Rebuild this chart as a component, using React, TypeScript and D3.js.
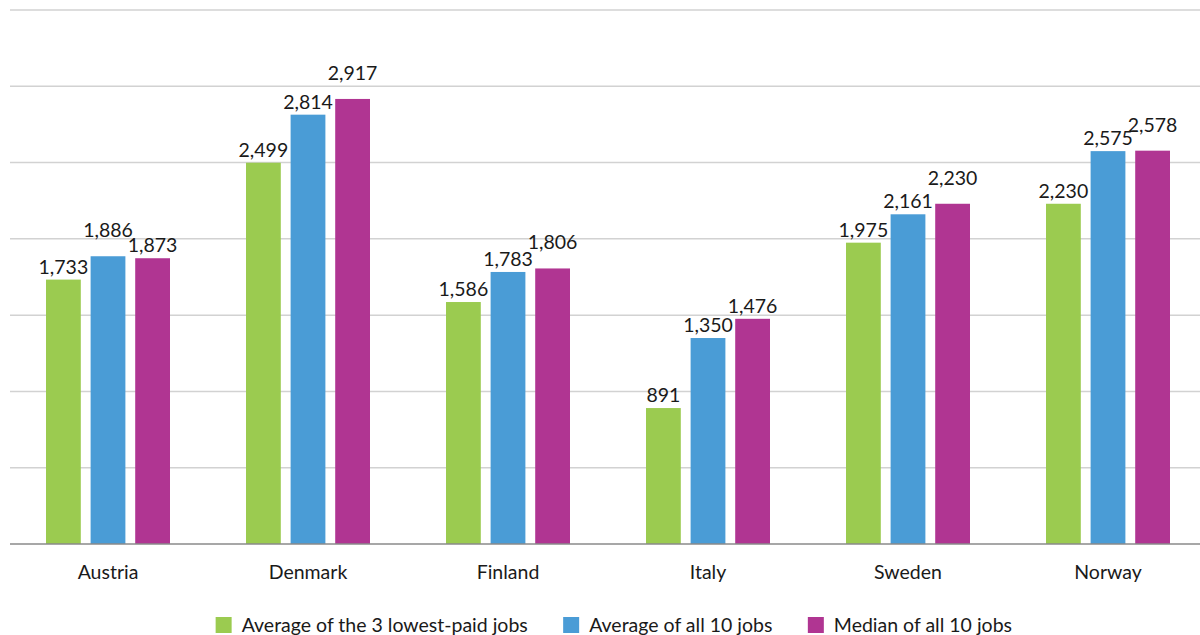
import React from "react";
import * as d3 from "d3";

const countries = ["Austria", "Denmark", "Finland", "Italy", "Sweden", "Norway"];
const seriesNames = [
  "Average of the 3 lowest-paid jobs",
  "Average of all 10 jobs",
  "Median of all 10 jobs",
];
const lowestPaidAvg = [1733, 2499, 1586, 891, 1975, 2230];
const allJobsAvg = [1886, 2814, 1783, 1350, 2161, 2575];
const allJobsMedian = [1873, 2917, 1806, 1476, 2230, 2578];
const seriesColors = ["#9bcb50", "#4a9cd6", "#b03592"];
const yTicks = [0, 500, 1000, 1500, 2000, 2500, 3000, 3500];

const W = 1200;
const H = 635;
const FONT = "Lato, 'Source Sans Pro', sans-serif";
const FS = 19.5;

let measureCtx: CanvasRenderingContext2D | null = null;
function textWidth(s: string): number {
  if (!measureCtx) {
    const c = document.createElement("canvas");
    measureCtx = c.getContext("2d");
  }
  if (!measureCtx) return s.length * FS * 0.5;
  measureCtx.font = `${FS}px Lato`;
  return measureCtx.measureText(s).width;
}

export default function App() {
  const series = [lowestPaidAvg, allJobsAvg, allJobsMedian];
  const fmt = d3.format(",");

  const x0 = d3
    .scaleBand<string>()
    .domain(countries)
    .range([8, 1208])
    .paddingInner(0.38)
    .paddingOuter(0.19);
  const x1 = d3
    .scaleBand<number>()
    .domain([0, 1, 2])
    .range([0, x0.bandwidth()])
    .paddingInner(0.22);
  const y = d3.scaleLinear().domain([0, 3500]).range([544, 10]);

  // value labels sit 6px above each bar; when two neighbours collide,
  // the taller bar's label is lifted to a second row
  const labels: { x: number; yb: number; text: string }[] = [];
  countries.forEach((c, ci) => {
    const items = series.map((s, si) => {
      const v = s[ci];
      const text = fmt(v);
      return {
        v,
        text,
        w: textWidth(text),
        cx: (x0(c) ?? 0) + (x1(si) ?? 0) + x1.bandwidth() / 2,
        yb: y(v) - 6,
      };
    });
    for (let i = 0; i < items.length - 1; i++) {
      const a = items[i];
      const b = items[i + 1];
      const hOverlap = Math.abs(a.cx - b.cx) < (a.w + b.w) / 2;
      const vOverlap = Math.abs(a.yb - b.yb) < 17;
      if (hOverlap && vOverlap) {
        const hi = a.v >= b.v ? a : b;
        hi.yb -= 13;
      }
    }
    items.forEach((it) => labels.push({ x: it.cx, yb: it.yb, text: it.text }));
  });

  // legend layout, centred under the plot
  const sq = 16;
  const sqGap = 10;
  const itemGap = 35;
  const widths = seriesNames.map((n) => textWidth(n));
  const total = widths.reduce((acc, w) => acc + sq + sqGap + w, 0) + itemGap * (seriesNames.length - 1);
  let lx = 614 - total / 2;
  const legendItems = seriesNames.map((n, i) => {
    const item = { x: lx, name: n, color: seriesColors[i] };
    lx += sq + sqGap + widths[i] + itemGap;
    return item;
  });

  return (
    <svg
      width={W}
      height={H}
      style={{ position: "absolute", left: 0, top: 0, background: "#fff" }}
      fontFamily={FONT}
    >
      <g>
        {yTicks.slice(1).map((t) => (
          <line key={t} x1={10} x2={1200} y1={y(t)} y2={y(t)} stroke="#d2d2d2" strokeWidth={1.5} />
        ))}
      </g>
      <g>
        {countries.map((c, ci) =>
          series.map((s, si) => (
            <rect
              key={`${c}-${si}`}
              x={(x0(c) ?? 0) + (x1(si) ?? 0)}
              y={y(s[ci])}
              width={x1.bandwidth()}
              height={y(0) - y(s[ci])}
              fill={seriesColors[si]}
            />
          ))
        )}
      </g>
      <line x1={10} x2={1200} y1={y(0)} y2={y(0)} stroke="#8a8a8a" strokeWidth={1.5} />
      <g fontSize={FS} fill="#1a1a1a" textAnchor="middle">
        {labels.map((l, i) => (
          <text key={i} x={l.x} y={l.yb}>
            {l.text}
          </text>
        ))}
      </g>
      <g fontSize={FS} fill="#1a1a1a" textAnchor="middle">
        {countries.map((c) => (
          <text key={c} x={(x0(c) ?? 0) + x0.bandwidth() / 2} y={579}>
            {c}
          </text>
        ))}
      </g>
      <g fontSize={FS} fill="#1a1a1a">
        {legendItems.map((it) => (
          <g key={it.name}>
            <rect x={it.x} y={617} width={sq} height={sq} fill={it.color} />
            <text x={it.x + sq + sqGap} y={632}>
              {it.name}
            </text>
          </g>
        ))}
      </g>
    </svg>
  );
}
